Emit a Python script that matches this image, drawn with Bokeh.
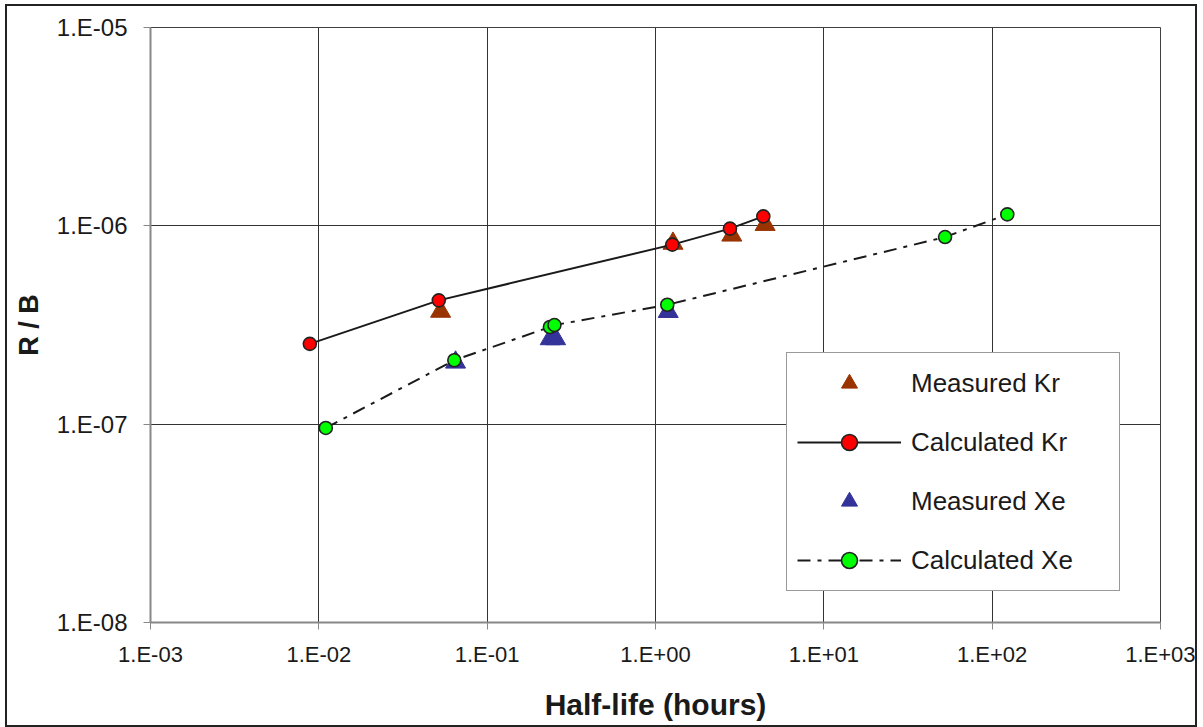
from bokeh.plotting import figure
from bokeh.models import (ColumnDataSource, Legend, LegendItem, FixedTicker,
                          CustomJSTickFormatter)
from bokeh.embed import file_html
from bokeh.resources import INLINE

# ---- data ----
meas_kr_x = [0.0529, 1.27, 2.84, 4.48]
meas_kr_y = [3.70e-7, 8.15e-7, 8.96e-7, 1.014e-6]

calc_kr_x = [0.00884, 0.0516, 1.258, 2.77, 4.37]
calc_kr_y = [2.54e-7, 4.21e-7, 8.04e-7, 9.68e-7, 1.116e-6]

meas_xe_x = [0.0649, 0.237, 0.255, 1.19]
meas_xe_y = [2.05e-7, 2.69e-7, 2.69e-7, 3.69e-7]

calc_xe_x = [0.0110, 0.0638, 0.236, 0.251, 1.175, 52.5, 123.0]
calc_xe_y = [9.57e-8, 2.10e-7, 3.09e-7, 3.16e-7, 4.00e-7, 8.78e-7, 1.142e-6]

x_ticks = [1e-3, 1e-2, 1e-1, 1e0, 1e1, 1e2, 1e3]
y_ticks = [1e-8, 1e-7, 1e-6, 1e-5]

FONT = "Liberation Sans"

p = figure(x_axis_type="log", y_axis_type="log",
           x_range=(1e-3, 1e3), y_range=(1e-8, 1e-5),
           frame_width=1010, frame_height=595,
           min_border_left=143, min_border_right=35,
           min_border_top=21, min_border_bottom=103,
           output_backend="svg", toolbar_location=None,
           background_fill_color="white", border_fill_color="white")
p.styles = {"border": "2px solid #222222", "margin": "4px 0px 0px 5px"}

p.outline_line_color = "#404040"
p.outline_line_width = 1

fmt = CustomJSTickFormatter(code="""
const e = Math.round(Math.log10(tick));
const s = e < 0 ? '-' : '+';
const a = Math.abs(e);
return '1.E' + s + (a < 10 ? '0' : '') + a;
""")

for ax, ticks in ((p.xaxis[0], x_ticks), (p.yaxis[0], y_ticks)):
    ax.ticker = FixedTicker(ticks=ticks, minor_ticks=[])
    ax.formatter = fmt
    ax.axis_line_color = "#888888"
    ax.axis_line_width = 2
    ax.major_tick_line_color = "#888888"
    ax.major_tick_line_width = 1
    ax.major_tick_out = 7
    ax.major_tick_in = 0
    ax.minor_tick_line_color = None
    ax.major_label_text_font = FONT
    ax.major_label_text_color = "#1a1a1a"
    ax.axis_label_text_font = FONT
    ax.axis_label_text_font_style = "bold"
    ax.axis_label_text_color = "#1a1a1a"

p.xaxis.major_label_text_font_size = "22px"
p.yaxis.major_label_text_font_size = "24px"
p.xaxis.major_label_standoff = 12
p.yaxis.major_label_standoff = 16
p.xaxis.axis_label = "Half-life (hours)"
p.yaxis.axis_label = "R / B"
p.xaxis.axis_label_text_font_size = "30px"
p.yaxis.axis_label_text_font_size = "27px"
p.xaxis.axis_label_standoff = 18
p.yaxis.axis_label_standoff = 10

for g, ticks in ((p.xgrid[0], x_ticks), (p.ygrid[0], y_ticks)):
    g.ticker = FixedTicker(ticks=ticks)
    g.grid_line_color = "#333333"
    g.grid_line_width = 1

src_mkr = ColumnDataSource(dict(x=meas_kr_x, y=meas_kr_y))
src_ckr = ColumnDataSource(dict(x=calc_kr_x, y=calc_kr_y))
src_mxe = ColumnDataSource(dict(x=meas_xe_x, y=meas_xe_y))
src_cxe = ColumnDataSource(dict(x=calc_xe_x, y=calc_xe_y))

r_mkr = p.scatter("x", "y", source=src_mkr, marker="triangle", size=20,
                  fill_color="#993300", line_color="#993300")
r_ckr_l = p.line("x", "y", source=src_ckr, line_color="#1a1a1a", line_width=2)
r_ckr_m = p.scatter("x", "y", source=src_ckr, marker="circle", size=13,
                    fill_color="#ff0000", line_color="#222222", line_width=1.6)
r_mxe = p.scatter("x", "y", source=src_mxe, marker="triangle", size=20,
                  fill_color="#333399", line_color="#333399")
r_cxe_l = p.line("x", "y", source=src_cxe, line_color="#1a1a1a", line_width=2,
                 line_dash="13 7 4 7")
r_cxe_m = p.scatter("x", "y", source=src_cxe, marker="circle", size=13,
                    fill_color="#00ff00", line_color="#222222", line_width=1.6)

legend = Legend(items=[
    LegendItem(label="Measured Kr", renderers=[r_mkr]),
    LegendItem(label="Calculated Kr", renderers=[r_ckr_l, r_ckr_m]),
    LegendItem(label="Measured Xe", renderers=[r_mxe]),
    LegendItem(label="Calculated Xe", renderers=[r_cxe_l, r_cxe_m]),
], location=(636, 31))
legend.label_text_font = FONT
legend.label_text_font_size = "26px"
legend.label_text_color = "#1a1a1a"
legend.glyph_width = 104
legend.glyph_height = 40
legend.spacing = 19
legend.padding = 10
legend.margin = 0
legend.label_standoff = 10
legend.label_width = 198
legend.border_line_color = "#333333"
legend.border_line_width = 1.5
legend.background_fill_color = "white"
legend.background_fill_alpha = 1
p.add_layout(legend, "center")

open("out.html", "w").write(file_html(p, INLINE))
